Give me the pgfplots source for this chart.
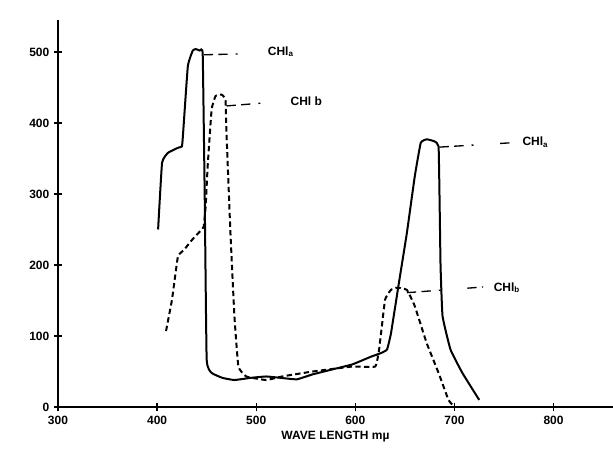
\documentclass[border=0pt]{standalone}
\usepackage{fontspec}
\setmainfont{Liberation Sans}
\usepackage{pgfplots}
\pgfplotsset{compat=1.18}

\begin{document}
\begin{tikzpicture}[x=1pt,y=1pt]
% page frame: 613 x 455 px at 0.75pt per px, axis corner at (58,407) px
\useasboundingbox (-43.5,-36) rectangle (416.25,305.25);
\begin{axis}[
    at={(0,0)}, anchor=south west,
    scale only axis,
    width=416.25pt, height=290.25pt,
    xmin=300, xmax=860,
    ymin=0, ymax=545,
    axis lines*=left,
    axis line style={line width=1.2pt},
    xtick={300,400,...,800},
    ytick={0,100,...,500},
    tick align=center,
    major tick length=6pt,
    tick style={line width=1pt, black},
    tick label style={font=\small\bfseries},
    /pgf/number format/assume math mode=true,
    /pgf/number format/1000 sep={},
    xlabel={\bfseries WAVE LENGTH m\textmu},
    xlabel style={font=\small, yshift=2pt},
    clip=false,
]
% Chl a (solid)
\addplot[black, line width=1.5pt, smooth, tension=0.2] coordinates {
 (401,250) (405,344) (411,358) (421,365) (425,367) (426,381)
 (431,480) (436,502) (439,504) (443,502) (446,497) (448,300) (450,67)
 (455,48) (466,41) (478,38) (494,41) (510,43) (525,41) (541,39)
 (557,46) (577,53) (597,60) (616,71) (626,76) (632,81) (636,104)
 (644,175) (652,245) (660,325) (666,372) (672,377) (680,374)
 (684,367) (685,292) (686,198) (688,128) (696,81) (708,48) (725,10)
};
% Chl b (dashed)
\addplot[black, line width=1.5pt, dash pattern=on 4pt off 2.5pt, smooth, tension=0.2] coordinates {
 (409,107) (415,151) (421,212) (427,221) (435,235) (443,247)
 (447,254) (449,283) (451,339) (455,419) (459,438) (465,440)
 (469,433) (470,386) (474,245) (478,128) (482,57) (490,43)
 (510,38) (526,43) (557,50) (597,57) (620,57) (624,81) (630,151)
 (636,165) (642,168) (652,165) (660,142) (672,90) (684,48)
 (694,10) (700,0)
};
% labels with leader lines
\tikzset{leader/.style={line width=1pt, dash pattern=on 7pt off 4pt on 7pt off 6pt on 1.5pt off 20pt}}
\draw[leader] (axis cs:447,496) -- (axis cs:503,498);
\node[anchor=west, font=\small\bfseries] at (axis cs:507,500) {CHl\textsubscript{a}};
\draw[leader] (axis cs:470,424) -- (axis cs:524,430);
\node[anchor=west, font=\small\bfseries] at (axis cs:530,430) {CHl b};
\draw[leader] (axis cs:685,366) -- (axis cs:756,372);
\node[anchor=west, font=\small\bfseries] at (axis cs:764,373) {CHl\textsubscript{a}};
\draw[leader] (axis cs:652,161) -- (axis cs:729,169);
\node[anchor=west, font=\small\bfseries] at (axis cs:735,168) {CHl\textsubscript{b}};
\end{axis}
\end{tikzpicture}
\end{document}
